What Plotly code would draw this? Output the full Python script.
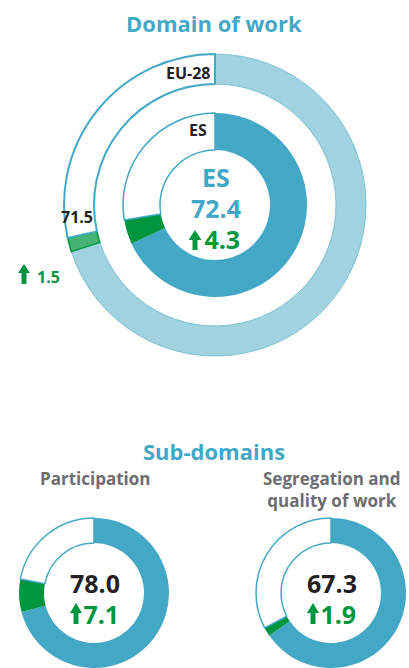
import plotly.graph_objects as go

# ---- data ----
main_title = "Domain of work"
country = "ES"
es_score = 72.4
es_change = 4.3
eu_label = "EU-28"
eu_score = 71.5
eu_change = 1.5
sub_title = "Sub-domains"
sub_names = ["Participation", "Segregation and<br>quality of work"]
sub_scores = [78.0, 67.3]
sub_changes = [7.1, 1.9]

# ---- styling ----
W, H = 409, 668
FONT = "Open Sans"
TEAL = "#43a8c6"
LIGHT = "#a0d2e0"
LIGHT_EDGE = "#7fc1d5"
GREEN = "#009640"
LGREEN = "#45b372"
GRAY = "#6d6e71"
BLACK = "#231f20"


def px(x):
    return x / W


def py(y):
    return 1 - y / H


def dom(cx, cy, r):
    return dict(x=[px(cx - r), px(cx + r)], y=[py(cy + r), py(cy - r)])


def parts(score, change):
    return [score - change, change, 100 - score]


fig = go.Figure()


def ring(values, cx, cy, r, hole, colors, lcolors, lwidths):
    fig.add_trace(go.Pie(
        values=values, sort=False, direction="clockwise", rotation=0,
        hole=hole, domain=dom(cx, cy, r), textinfo="none", hoverinfo="skip",
        showlegend=False,
        marker=dict(colors=colors, line=dict(color=lcolors, width=lwidths)),
    ))


# outer EU ring
ring(parts(eu_score, eu_change), 215, 205, 151, 121 / 151,
     [LIGHT, LGREEN, "white"], [LIGHT_EDGE, GREEN, TEAL], [1, 1.5, 2])
# inner country ring
ring(parts(es_score, es_change), 215, 205, 92, 55 / 92,
     [TEAL, GREEN, "white"], [TEAL, GREEN, TEAL], [0, 0, 1.5])
# sub-domain rings
sub_cx = [94, 331]
for cx, s, c in zip(sub_cx, sub_scores, sub_changes):
    ring(parts(s, c), cx, 593, 75, 50 / 75,
         [TEAL, GREEN, "white"], [TEAL, GREEN, TEAL], [0, 0, 1.5])

ann = []


def text(x, y, t, size, color, xanchor="center", bold=True):
    ann.append(dict(x=px(x), y=py(y), xref="paper", yref="paper", text=(f"<b>{t}</b>" if bold else t),
                    showarrow=False, xanchor=xanchor, yanchor="middle",
                    font=dict(family=FONT, size=size, color=color)))


shapes = []


def arrow(cx, ytop, ybot, hw, hh, sw, color=GREEN):
    pts = [(cx, ytop), (cx + hw, ytop + hh), (cx + sw, ytop + hh), (cx + sw, ybot),
           (cx - sw, ybot), (cx - sw, ytop + hh), (cx - hw, ytop + hh)]
    path = "M " + " L ".join(f"{px(x):.5f},{py(y):.5f}" for x, y in pts) + " Z"
    shapes.append(dict(type="path", path=path, xref="paper", yref="paper",
                       fillcolor=color, line=dict(width=0)))


text(214, 23, main_title, 22, TEAL)
text(214, 451, sub_title, 22, TEAL)

text(213, 73, eu_label, 16, BLACK, xanchor="right")
text(209, 130, country, 16, BLACK, xanchor="right")
text(77, 217, f"{eu_score:.1f}", 16, BLACK)
text(48, 277, f"{eu_change:.1f}", 16, GREEN)
arrow(24, 264, 284, 6, 9, 2.5)

# centre of the main ring: one block of three lines
big = "font-size:25px"
ann.append(dict(
    x=px(216), y=py(208), xref="paper", yref="paper", showarrow=False,
    xanchor="center", yanchor="middle", align="center",
    font=dict(family=FONT, size=24, color=TEAL),
    text=(f"<b><span style='{big}'>{country}</span></b><br>"
          f"<b><span style='{big}'>{es_score:.1f}</span></b><br>"
          f"<b><span style='{big};color:{GREEN}'>\u2002{es_change:.1f}</span></b>"),
))
arrow(195, 230, 250, 6.5, 10, 2.5)

text(95, 478, "Participation", 17, GRAY)
text(332, 490, sub_names[1], 17, GRAY)
for cx, s, c in zip(sub_cx, sub_scores, sub_changes):
    ann.append(dict(
        x=px(cx + 1), y=py(598), xref="paper", yref="paper", showarrow=False,
        xanchor="center", yanchor="middle", align="center",
        font=dict(family=FONT, size=24, color=BLACK),
        text=(f"<b><span style='{big}'>{s:.1f}</span></b><br>"
              f"<b><span style='{big};color:{GREEN}'>\u2002{c:.1f}</span></b>"),
    ))
    arrow(cx - 18, 603, 624, 6, 10, 2.5)

fig.update_layout(width=W, height=H, margin=dict(l=0, r=0, t=0, b=0),
                  paper_bgcolor="white", plot_bgcolor="white",
                  annotations=ann, shapes=shapes)
fig.write_html("out.html", config={"displayModeBar": False},
               post_script="document.body.style.margin='0';document.body.style.overflow='hidden';")
